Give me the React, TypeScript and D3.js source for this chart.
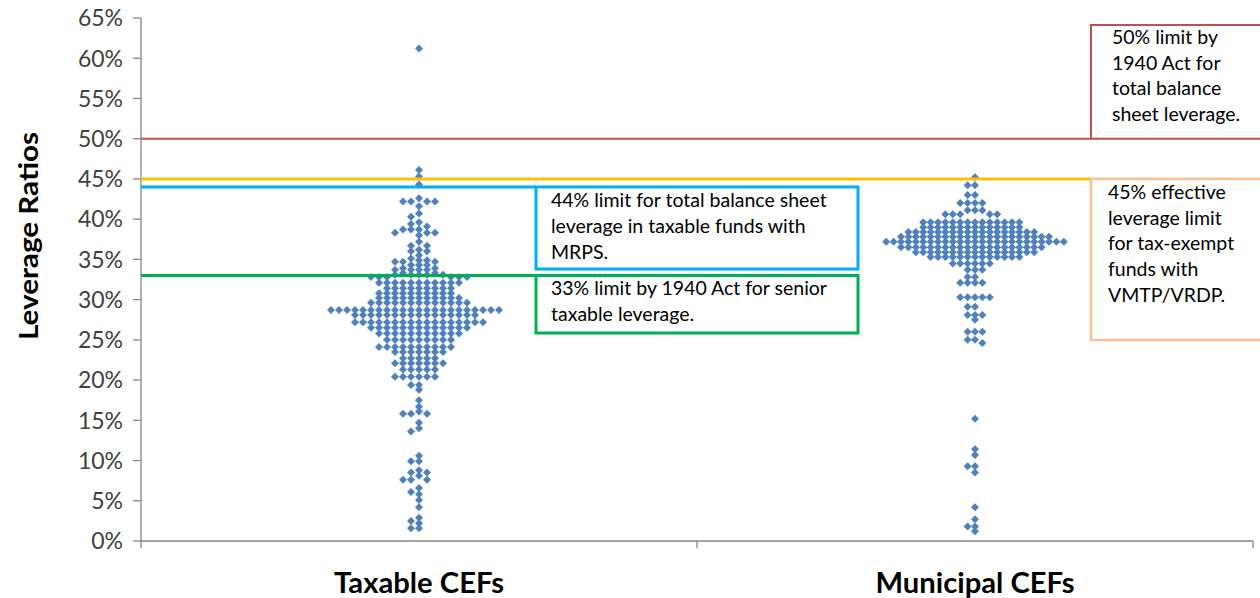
import React from 'react';
import * as d3 from 'd3';

// ---------- data ----------
const categories = ['Taxable CEFs', 'Municipal CEFs'];
const yTickValues = [0, 5, 10, 15, 20, 25, 30, 35, 40, 45, 50, 55, 60, 65];

// leverage ratios (%)
const taxableLeverage = [
  61.2, 46.1, 45.3, 44.3,
  42.6, 42.2, 42.2, 42.2, 42.2, 41.6, 40.7, 40.3, 39.6, 39.4, 39.1,
  38.7, 38.7, 38.7, 38.3, 38.3, 38.3, 38.0, 37.2, 36.7, 36.7, 36.2, 36.0, 36.0, 35.5, 35.1,
  34.9, 34.9, 34.7, 34.7, 34.7, 34.3, 34.3, 34.3, 33.9, 33.9, 33.7, 33.7, 33.7, 33.7, 33.3, 33.3,
  33.1, 33.1, 33.1, 33.1, 33.1,
  32.8, 32.8, 32.8, 32.8, 32.8, 32.8,
  32.1, 32.1, 32.1, 32.1, 32.1, 32.1, 32.1, 32.1, 32.1, 32.1, 32.1,
  31.4, 31.4, 31.4, 31.4, 31.4, 31.4, 31.4, 31.4, 31.4,
  30.8, 30.8, 30.8, 30.8, 30.8, 30.8, 30.8, 30.8, 30.8, 30.8,
  30.2, 30.2, 30.2, 30.2, 30.2, 30.2, 30.2, 30.2, 30.2, 30.2, 30.2,
  29.6, 29.6, 29.6, 29.6, 29.6, 29.6, 29.6, 29.6, 29.6, 29.6, 29.6, 29.6, 29.6,
  28.7, 28.7, 28.7, 28.7, 28.7, 28.7, 28.7, 28.7, 28.7, 28.7, 28.7,
  28.7, 28.7, 28.7, 28.7, 28.7, 28.7, 28.7, 28.7, 28.7, 28.7, 28.7,
  28.1, 28.1, 28.1, 28.1, 28.1, 28.1, 28.1, 28.1, 28.1, 28.1, 28.1, 28.1, 28.1, 28.1, 28.1, 28.1,
  27.2, 27.2, 27.2, 27.2, 27.2, 27.2, 27.2, 27.2, 27.2, 27.2, 27.2, 27.2, 27.2, 27.2, 27.2, 27.2, 27.2,
  26.5, 26.5, 26.5, 26.5, 26.5, 26.5, 26.5, 26.5, 26.5, 26.5, 26.5, 26.5, 26.5,
  25.8, 25.8, 25.8, 25.8, 25.8, 25.8, 25.8, 25.8, 25.8, 25.8, 25.8,
  25.0, 25.0, 25.0, 25.0, 25.0, 25.0, 25.0, 25.0, 25.0,
  24.1, 24.1, 24.1, 24.1, 24.1, 24.1, 24.1, 24.1, 24.1, 24.1,
  23.5, 23.5, 23.5, 23.5, 23.5, 23.5, 23.5,
  22.7, 22.7, 22.7, 22.7, 22.7,
  22.1, 22.1, 22.1, 22.1, 22.1, 22.1, 22.1,
  21.3, 21.3, 21.3, 21.3, 21.3,
  20.4, 20.4, 20.4, 20.4, 20.4, 20.4,
  19.4, 19.4, 18.8,
  17.5, 16.7, 16.1, 15.8, 15.8, 15.8, 14.7, 14.0, 13.6,
  10.6, 9.9, 9.9, 8.8, 8.5, 8.5, 8.1, 7.6, 7.6, 7.6, 6.6, 6.1, 5.8, 5.1, 4.2,
  2.9, 2.5, 2.2, 1.6, 1.6,
];

const municipalLeverage = [
  45.2, 44.2, 44.2, 43.0, 43.0, 42.0, 42.0, 42.0, 42.0,
  41.1, 41.1, 41.1, 40.6, 40.6, 40.6, 40.6, 40.6,
  39.6, 39.6, 39.6, 39.6, 39.6, 39.6, 39.6, 39.6, 39.6, 39.6, 39.6, 39.6, 39.6, 39.6,
  39.0, 39.0, 39.0, 39.0, 39.0, 39.0, 39.0, 39.0, 39.0, 39.0, 39.0, 39.0, 39.0, 39.0,
  38.4, 38.4, 38.4, 38.4, 38.4, 38.4, 38.4, 38.4, 38.4, 38.4, 38.4, 38.4, 38.4, 38.4, 38.4, 38.4, 38.4, 38.4,
  37.8, 37.8, 37.8, 37.8, 37.8, 37.8, 37.8, 37.8, 37.8, 37.8, 37.8,
  37.8, 37.8, 37.8, 37.8, 37.8, 37.8, 37.8, 37.8, 37.8, 37.8,
  37.2, 37.2, 37.2, 37.2, 37.2, 37.2, 37.2, 37.2, 37.2, 37.2, 37.2, 37.2, 37.2,
  37.2, 37.2, 37.2, 37.2, 37.2, 37.2, 37.2, 37.2, 37.2, 37.2, 37.2, 37.2,
  36.5, 36.5, 36.5, 36.5, 36.5, 36.5, 36.5, 36.5, 36.5, 36.5,
  36.5, 36.5, 36.5, 36.5, 36.5, 36.5, 36.5, 36.5, 36.5, 36.5,
  35.9, 35.9, 35.9, 35.9, 35.9, 35.9, 35.9, 35.9, 35.9, 35.9, 35.9, 35.9, 35.9, 35.9, 35.9, 35.9, 35.9,
  35.3, 35.3, 35.3, 35.3, 35.3, 35.3, 35.3, 35.3, 35.3, 35.3, 35.3, 35.3, 35.3,
  34.5, 34.5, 34.5, 34.5, 34.5, 34.5,
  33.7, 33.7, 33.7, 32.8, 32.8, 32.1, 32.1, 32.1, 32.1,
  30.3, 30.3, 30.3, 30.3, 30.3, 29.1, 29.1, 28.1, 28.1, 28.1, 27.5,
  26.0, 26.0, 26.0, 25.0, 25.0, 24.6,
  15.2, 11.4, 10.7, 9.3, 9.3, 8.5, 4.2, 2.7, 1.8, 1.8, 1.2,
];

const limitValues = [50, 45, 44, 33];
const redNote = ['50% limit by', '1940 Act for', 'total balance', 'sheet leverage.'];
const orangeNote = ['45% effective', 'leverage limit', 'for tax-exempt', 'funds with', 'VMTP/VRDP.'];
const blueNote = ['44% limit for total balance sheet', 'leverage in taxable funds with', 'MRPS.'];
const greenNote = ['33% limit by 1940 Act for senior', 'taxable leverage.'];

// ---------- layout ----------
const W = 1260;
const H = 598;
const AXIS_LEFT = 141;
const AXIS_RIGHT = 1253;
const AXIS_TOP = 18;
const AXIS_BOTTOM = 541;

type Pt = { x: number; y: number; v: number };

function swarm(values: number[], cx: number, colW: number, y: (v: number) => number, minDy: number): Pt[] {
  const sorted = [...values].sort((a, b) => b - a);
  const cols = new Map<number, number[]>();
  const out: Pt[] = [];
  for (const v of sorted) {
    const py = y(v);
    for (let i = 0; i < 200; i++) {
      const k = i === 0 ? 0 : i % 2 === 1 ? -(i + 1) / 2 : i / 2;
      const arr = cols.get(k) || [];
      if (arr.every((q) => Math.abs(q - py) >= minDy)) {
        arr.push(py);
        cols.set(k, arr);
        out.push({ x: cx + k * colW, y: py, v });
        break;
      }
    }
  }
  return out;
}

const diamond = (r: number) => `M0,${-r}L${r},0L0,${r}L${-r},0Z`;

export default function App() {
  const x = d3.scaleBand<string>().domain(categories).range([AXIS_LEFT, AXIS_RIGHT]);
  const y = d3.scaleLinear().domain([0, 65]).range([AXIS_BOTTOM, AXIS_TOP]);
  const cTax = (x(categories[0]) as number) + x.bandwidth() / 2;
  const cMun = (x(categories[1]) as number) + x.bandwidth() / 2;

  const taxPts = swarm(taxableLeverage, cTax, 8, y, 4.5);
  const munPts = swarm(municipalLeverage, cMun, 7.4, y, 4.5);

  const font = 'Lato, "Open Sans", Arial, sans-serif';
  const axisColor = '#868686';
  const dotColor = '#4F81BD';
  const noteSize = 19.5;

  const [yRed, yGold, yBlue, yGreen] = limitValues.map((v) => y(v));
  const boxLeft = 536;
  const boxRight = 858;
  const rightBoxLeft = 1091;
  const catWidths = [170, 199];

  return (
    <svg width={W} height={H} style={{ position: 'absolute', left: 0, top: 0, background: '#fff' }}>
      <rect x={0} y={0} width={W} height={H} fill="#fff" />
      {/* axes */}
      <line x1={AXIS_LEFT} x2={AXIS_LEFT} y1={AXIS_TOP} y2={AXIS_BOTTOM} stroke={axisColor} strokeWidth={1.3} />
      <line x1={AXIS_LEFT} x2={AXIS_RIGHT} y1={AXIS_BOTTOM} y2={AXIS_BOTTOM} stroke={axisColor} strokeWidth={1.3} />
      {yTickValues.map((t) => (
        <g key={t}>
          <line x1={AXIS_LEFT - 8} x2={AXIS_LEFT} y1={y(t)} y2={y(t)} stroke={axisColor} strokeWidth={1.3} />
          <text x={123} y={y(t)} dy="0.36em" textAnchor="end" fontFamily={font} fontSize={23} fill="#404040">
            {t}%
          </text>
        </g>
      ))}
      {[AXIS_LEFT, (x(categories[1]) as number), AXIS_RIGHT].map((px, i) => (
        <line key={i} x1={px} x2={px} y1={AXIS_BOTTOM} y2={AXIS_BOTTOM + 7} stroke={axisColor} strokeWidth={1.3} />
      ))}
      {categories.map((c, i) => (
        <text key={c} x={(x(c) as number) + x.bandwidth() / 2} y={593} textAnchor="middle" fontFamily={font}
          fontWeight="bold" fontSize={28} fill="#000" textLength={catWidths[i]} lengthAdjust="spacingAndGlyphs">
          {c}
        </text>
      ))}
      <text transform={`translate(38,236) rotate(-90)`} textAnchor="middle" fontFamily={font} fontWeight="bold"
        fontSize={27} fill="#000" textLength={208} lengthAdjust="spacingAndGlyphs">
        Leverage Ratios
      </text>

      {/* dots */}
      {[...taxPts, ...munPts].map((p, i) => (
        <path key={i} d={diamond(4)} transform={`translate(${p.x},${p.y})`} fill={dotColor} />
      ))}

      {/* limit lines & boxes */}
      <line x1={AXIS_LEFT} x2={rightBoxLeft} y1={yRed} y2={yRed} stroke="#C0504D" strokeWidth={2} />
      <rect x={rightBoxLeft} y={25} width={W - rightBoxLeft + 10} height={yRed - 25} fill="none" stroke="#C0504D" strokeWidth={2} />
      <line x1={AXIS_LEFT} x2={rightBoxLeft} y1={yGold} y2={yGold} stroke="#FFC000" strokeWidth={3} />
      <rect x={rightBoxLeft} y={yGold} width={W - rightBoxLeft + 10} height={340 - yGold} fill="none" stroke="#FAC090" strokeWidth={2.5} />
      <line x1={AXIS_LEFT} x2={boxLeft} y1={yBlue} y2={yBlue} stroke="#00B0F0" strokeWidth={3} />
      <rect x={boxLeft} y={yBlue} width={boxRight - boxLeft} height={269 - yBlue} fill="none" stroke="#00B0F0" strokeWidth={3} />
      <line x1={AXIS_LEFT} x2={boxLeft} y1={yGreen} y2={yGreen} stroke="#00B050" strokeWidth={3} />
      <rect x={boxLeft} y={yGreen} width={boxRight - boxLeft} height={333 - yGreen} fill="none" stroke="#00B050" strokeWidth={3} />

      {blueNote.map((s, i) => (
        <text key={s} x={551} y={207 + i * 26} fontFamily={font} fontSize={noteSize} fill="#000">{s}</text>
      ))}
      {greenNote.map((s, i) => (
        <text key={s} x={551} y={295 + i * 25.5} fontFamily={font} fontSize={noteSize} fill="#000">{s}</text>
      ))}
      {redNote.map((s, i) => (
        <text key={s} x={1112} y={44 + i * 25.7} fontFamily={font} fontSize={noteSize} fill="#000">{s}</text>
      ))}
      {orangeNote.map((s, i) => (
        <text key={s} x={1108} y={199 + i * 25.7} fontFamily={font} fontSize={noteSize} fill="#000">{s}</text>
      ))}
    </svg>
  );
}
